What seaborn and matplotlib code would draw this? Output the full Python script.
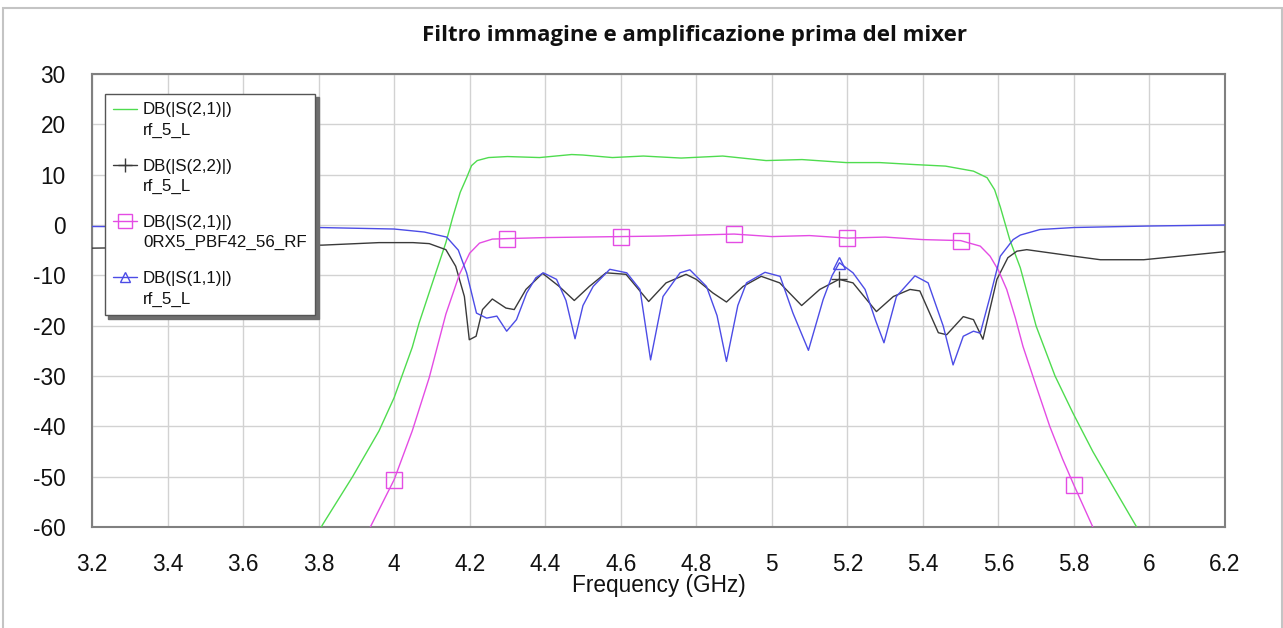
import numpy as np
import pandas as pd
import matplotlib
matplotlib.use("Agg")
import matplotlib.pyplot as plt
from matplotlib.lines import Line2D
from matplotlib.patches import Rectangle
from matplotlib.legend_handler import HandlerLine2D
import seaborn as sns

# ---- data (frequency in GHz, level in dB) ----
s21_freq = [3.78, 3.81, 3.89, 3.96, 4.00, 4.048, 4.066, 4.10, 4.137, 4.155, 4.175, 4.192,
            4.205, 4.22, 4.25, 4.30, 4.385, 4.47, 4.50, 4.578, 4.66, 4.76, 4.87, 4.985,
            5.08, 5.197, 5.286, 5.38, 5.46, 5.534, 5.57, 5.59, 5.605, 5.63, 5.658, 5.70,
            5.75, 5.797, 5.85, 5.90, 5.966, 5.99]
s21_db = [-64, -59.6, -50.0, -40.9, -34.3, -24.3, -19.5, -11.8, -3.5, 1.5, 6.5, 9.4,
          11.8, 12.8, 13.4, 13.6, 13.4, 14.0, 13.9, 13.4, 13.7, 13.3, 13.7, 12.8,
          13.0, 12.4, 12.4, 12.0, 11.7, 10.7, 9.4, 7.0, 3.6, -2.9, -8.5, -20.1,
          -30.0, -37.3, -45.0, -51.5, -60.0, -63]

s22_freq = [3.20, 3.50, 3.81, 3.96, 4.05, 4.093, 4.137, 4.163, 4.186, 4.199, 4.217, 4.234,
            4.26, 4.296, 4.318, 4.349, 4.393, 4.437, 4.477, 4.517, 4.561, 4.614, 4.674,
            4.72, 4.773, 4.80, 4.844, 4.88, 4.924, 4.972, 5.021, 5.079, 5.127, 5.178,
            5.215, 5.277, 5.322, 5.366, 5.392, 5.441, 5.463, 5.507, 5.534, 5.559, 5.596,
            5.625, 5.649, 5.675, 5.80, 5.87, 5.985, 6.20]
s22_db = [-4.6, -4.3, -4.0, -3.5, -3.5, -3.7, -4.9, -8.2, -14.2, -22.8, -22.1, -16.8,
          -14.7, -16.5, -16.8, -12.8, -9.6, -12.2, -15.0, -12.2, -9.5, -9.8, -15.2,
          -11.5, -9.8, -10.8, -13.5, -15.3, -12.2, -10.2, -11.5, -16.0, -12.8, -10.8,
          -11.5, -17.2, -14.2, -12.8, -13.1, -21.4, -21.8, -18.2, -18.8, -22.7, -10.8,
          -6.5, -5.2, -4.9, -6.2, -6.9, -6.9, -5.3]

filt_freq = [3.92, 3.937, 4.00, 4.048, 4.093, 4.137, 4.173, 4.20, 4.226, 4.26, 4.30, 4.40,
             4.50, 4.60, 4.70, 4.80, 4.90, 5.00, 5.10, 5.20, 5.30, 5.40, 5.50, 5.552,
             5.578, 5.60, 5.622, 5.645, 5.665, 5.70, 5.736, 5.77, 5.80, 5.85, 5.87]
filt_db = [-64, -60.0, -50.6, -40.9, -30.3, -17.7, -9.8, -5.6, -3.6, -2.8, -2.7, -2.5,
           -2.4, -2.3, -2.2, -2.0, -1.8, -2.3, -2.1, -2.6, -2.4, -2.9, -3.1, -4.2,
           -6.2, -9.0, -12.8, -18.5, -24.1, -32.0, -40.0, -46.5, -51.7, -60.0, -64]

s11_freq = [3.20, 3.50, 3.80, 4.00, 4.08, 4.139, 4.17, 4.192, 4.205, 4.218, 4.245, 4.272,
            4.298, 4.324, 4.351, 4.375, 4.395, 4.43, 4.455, 4.479, 4.50, 4.527, 4.571,
            4.616, 4.651, 4.679, 4.712, 4.757, 4.783, 4.827, 4.855, 4.880, 4.91, 4.933,
            4.982, 5.022, 5.056, 5.097, 5.136, 5.16, 5.179, 5.215, 5.247, 5.275, 5.297,
            5.33, 5.379, 5.414, 5.454, 5.48, 5.507, 5.534, 5.552, 5.578, 5.605, 5.639,
            5.658, 5.71, 5.80, 6.00, 6.20]
s11_db = [-0.3, -0.4, -0.5, -0.8, -1.4, -2.4, -5.0, -9.5, -13.5, -17.5, -18.5, -18.1,
          -21.1, -18.8, -13.5, -10.5, -9.5, -10.8, -15.0, -22.6, -16.0, -12.2, -8.8,
          -9.5, -12.8, -26.8, -14.2, -9.5, -8.9, -12.2, -18.0, -27.1, -16.0, -11.5,
          -9.4, -10.2, -17.5, -24.9, -14.8, -10.0, -7.5, -9.5, -12.8, -19.0, -23.4,
          -14.2, -10.1, -11.5, -20.1, -27.8, -22.1, -21.1, -21.5, -14.2, -6.2, -2.9,
          -2.0, -0.9, -0.5, -0.2, 0.0]

# marker positions along each trace (GHz)
filt_marker_freq = [4.0, 4.3, 4.6, 4.9, 5.2, 5.5, 5.8]
s22_marker_freq = [5.178]
s11_marker_freq = [5.179]

trace_names = ["DB(|S(2,1)|)\nrf_5_L", "DB(|S(2,2)|)\nrf_5_L",
               "DB(|S(2,1)|)\n0RX5_PBF42_56_RF", "DB(|S(1,1)|)\nrf_5_L"]
trace_colors = ["#4fdc4f", "#3a3a3a", "#e44ce4", "#4c4ce6"]

x_ticks = [3.2, 3.4, 3.6, 3.8, 4.0, 4.2, 4.4, 4.6, 4.8, 5.0, 5.2, 5.4, 5.6, 5.8, 6.0, 6.2]
x_tick_labels = ["3.2", "3.4", "3.6", "3.8", "4", "4.2", "4.4", "4.6", "4.8", "5",
                 "5.2", "5.4", "5.6", "5.8", "6", "6.2"]
y_ticks = [30, 20, 10, 0, -10, -20, -30, -40, -50, -60]
y_tick_labels = ["30", "20", "10", "0", "-10", "-20", "-30", "-40", "-50", "-60"]

title = "Filtro immagine e amplificazione prima del mixer"
x_label = "Frequency (GHz)"

# ---- style ----
sns.set_style("white")
plt.rcParams["font.family"] = ["Liberation Sans", "DejaVu Sans"]

W, H = 1283, 628
fig = plt.figure(figsize=(W / 100, H / 100), dpi=100)
ax = fig.add_axes([92 / W, 1 - 527 / H, 1133 / W, 453 / H])

series = [
    (s21_freq, s21_db, None, None),
    (s22_freq, s22_db, s22_marker_freq, "+"),
    (filt_freq, filt_db, filt_marker_freq, "s"),
    (s11_freq, s11_db, s11_marker_freq, "^"),
]
marker_sizes = {"+": 11, "s": 11, "^": 8}

for (fx, fy, mf, mk), name, col in zip(series, trace_names, trace_colors):
    df = pd.DataFrame({"freq": fx, "dB": fy})
    sns.lineplot(data=df, x="freq", y="dB", ax=ax, color=col, lw=1.0,
                 sort=False, estimator=None, legend=False, zorder=3)
    if mf is not None:
        mdf = pd.DataFrame({"freq": mf, "dB": np.interp(mf, fx, fy)})
        ax.plot(mdf["freq"], mdf["dB"], ls="none", marker=mk, ms=marker_sizes[mk],
                mfc="none", mec=col, mew=1.0, zorder=4)

ax.set_xlim(3.2, 6.2)
ax.set_ylim(-60, 30)
ax.set_xticks(x_ticks)
ax.set_xticklabels(x_tick_labels)
ax.set_yticks(y_ticks)
ax.set_yticklabels(y_tick_labels)
ax.tick_params(axis="both", length=0, labelsize=16.3, colors="#111111")
ax.tick_params(axis="y", pad=19)
ax.tick_params(axis="x", pad=18.5)
ax.grid(True, color="#d2d2d2", lw=1.0, zorder=0)
ax.set_axisbelow(True)
for sp in ax.spines.values():
    sp.set_color("#808080")
    sp.set_linewidth(1.5)
ax.set_xlabel(x_label, fontsize=16.3, labelpad=-1, color="#111111")
ax.set_ylabel("")


class RaisedLineHandler(HandlerLine2D):
    """Line handle aligned with the first row of a two-row label."""
    def create_artists(self, legend, orig_handle, xdescent, ydescent, width,
                       height, fontsize, trans):
        return super().create_artists(legend, orig_handle, xdescent, ydescent,
                                      width, height + 2 * 8.3, fontsize, trans)


handles = []
for (fx, fy, mf, mk), name, col in zip(series, trace_names, trace_colors):
    handles.append(Line2D([], [], color=col, lw=1.0, marker=mk if mk else None,
                          ms=marker_sizes.get(mk, 0) * 0.9, mfc="none", mec=col, mew=1.0))

leg = ax.legend(handles, trace_names, loc="upper left",
                bbox_to_anchor=(13 / 1133, 1 - 20 / 453), borderaxespad=0,
                fontsize=12.2, frameon=True, fancybox=False, framealpha=1,
                edgecolor="#555555", handlelength=1.4, handletextpad=0.35,
                borderpad=0.5, labelspacing=1.22, numpoints=1,
                shadow={"facecolor": "#6e6e6e", "edgecolor": "#6e6e6e", "alpha": 1.0,
                        "ox": 2.5, "oy": -2.5},
                handler_map={Line2D: RaisedLineHandler()})
leg.get_frame().set_linewidth(1.0)
for t in leg.get_texts():
    t.set_linespacing(1.45)
    t.set_color("#111111")
leg.set_zorder(10)

fig.text(695 / W, 1 - 35 / H, title, ha="center", va="center",
         fontsize=16, fontweight="bold", family=["Open Sans", "DejaVu Sans"], color="#111111")

# outer frame of the chart area
fig.patches.append(Rectangle((3 / W, -0.02), 1278.5 / W, 1.02 - 8 / H,
                             transform=fig.transFigure, fill=False,
                             edgecolor="#c4c4c4", lw=1.5))

fig.savefig("out.png", dpi=100)
